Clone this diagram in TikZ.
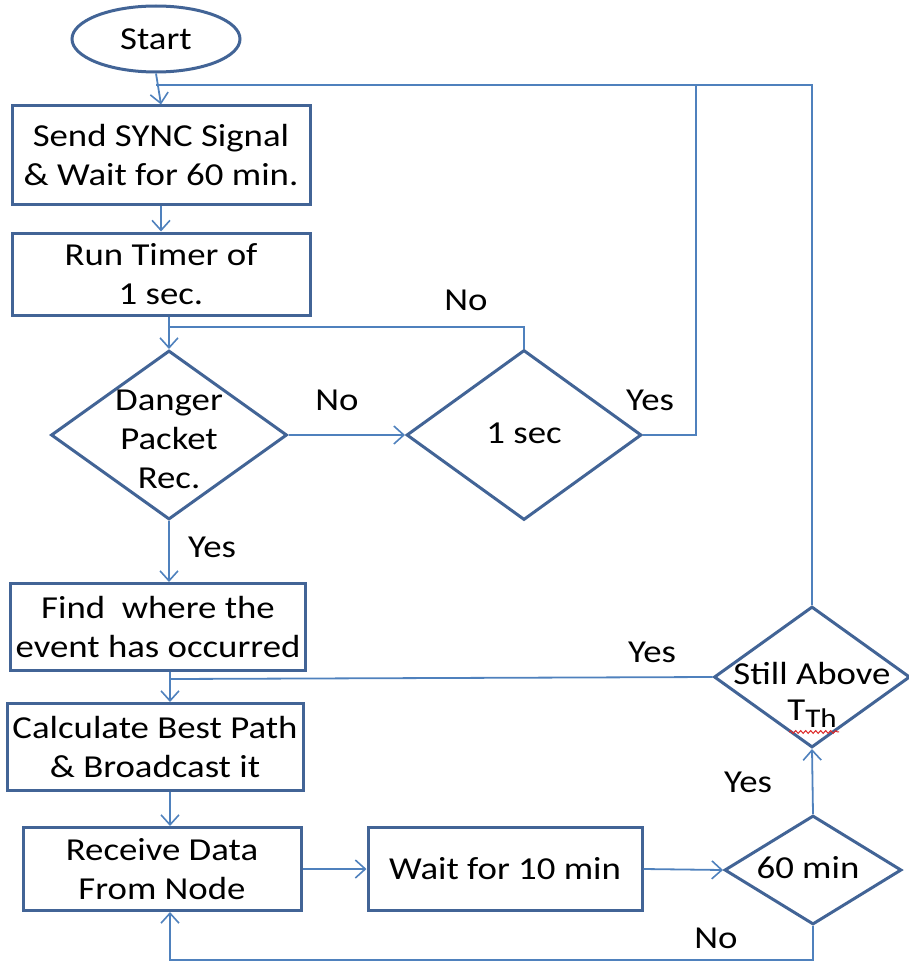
\documentclass[tikz,border=0pt]{standalone}
\usepackage{fontspec}
\setmainfont{Carlito}[FakeStretch=1.15]
\usetikzlibrary{shapes.geometric,arrows.meta,decorations.pathmorphing}
\definecolor{boxline}{RGB}{66,100,150}
\definecolor{flowline}{RGB}{79,129,189}
\definecolor{spellred}{RGB}{220,40,40}
\begin{document}
\begin{tikzpicture}[x=1pt,y=-1pt,
  every node/.style={font=\fontsize{32pt}{39pt}\selectfont, text=black},
  procbox/.style={draw=boxline, line width=3pt, rectangle, inner sep=0pt, align=center},
  decbox/.style={draw=boxline, line width=3pt, diamond, inner sep=0pt},
  termbox/.style={draw=boxline, line width=3pt, ellipse, inner sep=0pt},
  txt/.style={inner sep=0pt, align=center},
  conn/.style={draw=flowline, line width=1.8pt},
  arr/.style={conn, -{Straight Barb[length=10pt,width=18pt,line width=1.6pt]}}
]
\useasboundingbox (0,0) rectangle (908,963);

% terminal and process boxes
\node[termbox, minimum width=168pt, minimum height=66pt] (start) at (156,39) {Start};
\node[procbox, minimum width=298pt, minimum height=98pt] (sync) at (161,155)
  {Send SYNC Signal\\\& Wait for 60 min.};
\node[procbox, minimum width=298pt, minimum height=82pt] (timer) at (161,274)
  {Run Timer of\\1 sec.};
\node[procbox, minimum width=295pt, minimum height=87pt] (find) at (158,627)
  {Find\ \ where the\\event has occurred};
\node[procbox, minimum width=296pt, minimum height=87pt] (calc) at (155,747)
  {Calculate Best Path\\\& Broadcast it};
\node[procbox, minimum width=278pt, minimum height=83pt] (recv) at (162,869)
  {Receive Data\\From Node};
\node[procbox, minimum width=274pt, minimum height=83pt] (wait) at (505,869)
  {Wait for 10 min};

% decision diamonds
\node[decbox, minimum width=236pt, minimum height=169pt] (danger) at (169,435) {};
\node[txt] (dangert) at (169,439) {Danger\\Packet\\Rec.};
\node[decbox, minimum width=235pt, minimum height=170pt] (onesec) at (524,435) {};
\node[txt] (onesect) at (524,433) {1 sec};
\node[decbox, minimum width=177pt, minimum height=109pt] (sixty) at (813,870) {};
\node[txt] (sixtyt) at (808,868) {60 min};
\node[decbox, minimum width=196pt, minimum height=141pt] (still) at (812,677) {};
\node[txt] (stillt) at (812,673) {Still Above};
\node[txt] (tth) at (812,714) {T\raisebox{-7pt}{\fontsize{27pt}{27pt}\selectfont Th}};
\draw[spellred, line width=1pt, decorate,
  decoration={snake, amplitude=1.4pt, segment length=5pt}]
  (tth.south west) ++(2,4) -- ++(50,0);

% junction points on the connectors
\coordinate (topjoin) at (156,85);
\coordinate (loopjoin) at (169,327);
\coordinate (calcjoin) at (170,679);
\coordinate (yesright) at (696,435);
\coordinate (bottomright) at (813,960);

% connectors
\draw[arr] (start.south) -- (sync.north);
\draw[conn] (still.north) |- (topjoin);
\draw[conn] (onesec.east) -- (yesright) |- (topjoin);
\draw[arr] (sync.south) -- (timer.north);
\draw[arr] (timer.south -| danger.north) -- (danger.north);
\draw[conn] (onesec.north) |- (loopjoin);
\draw[arr] (danger.east) -- (onesec.west);
\draw[arr] (danger.south) -- (find.north -| danger.south);
\draw[arr] (find.south -| calcjoin) -- (calc.north -| calcjoin);
\draw[conn] (still.west) -- (calcjoin);
\draw[arr] (calc.south -| calcjoin) -- (recv.north -| calcjoin);
\draw[arr] (recv.east |- wait.west) -- (wait.west);
\draw[arr] (wait.east) -- (sixty.west);
\draw[arr] (sixty.north) -- (still.south);
\draw[arr] (sixty.south) -- (bottomright) -| (recv.south -| calcjoin);

% branch labels
\node[txt] (lno1) at (466,300) {No};
\node[txt] (lno2) at (337,400) {No};
\node[txt] (lyes1) at (650,400) {Yes};
\node[txt] (lyes2) at (212,547) {Yes};
\node[txt] (lyes3) at (652,652) {Yes};
\node[txt] (lyes4) at (748,782) {Yes};
\node[txt] (lno3) at (716,938) {No};
\end{tikzpicture}
\end{document}
